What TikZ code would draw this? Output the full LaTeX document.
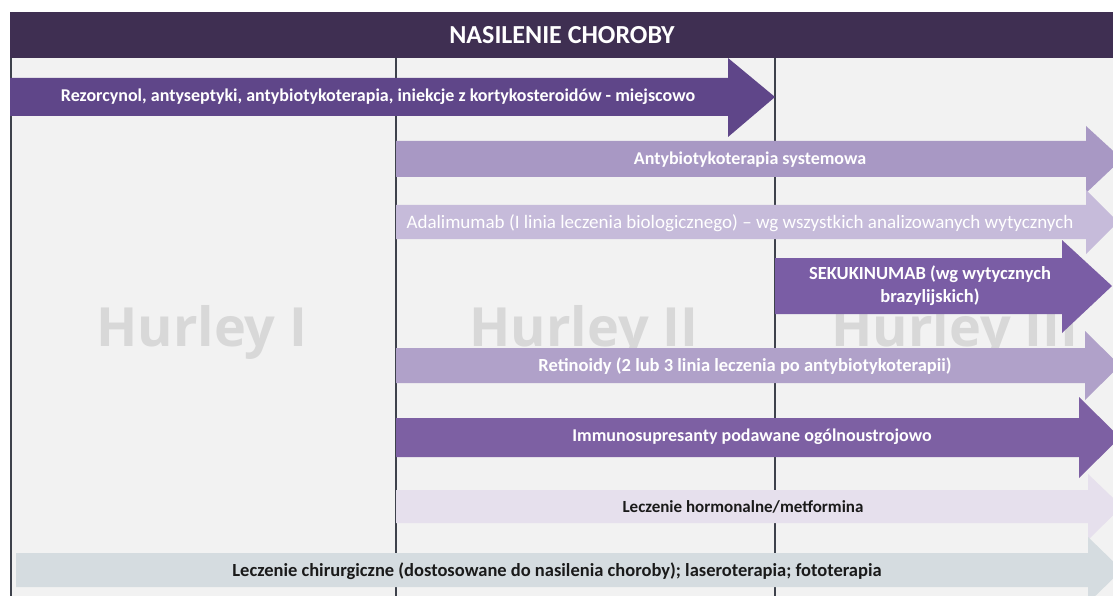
\documentclass[tikz,border=0pt]{standalone}
\usepackage{fontspec}
\setmainfont{Carlito}
\newfontfamily\stagefont{Open Sans}
\definecolor{paper}{RGB}{242,242,242}
\definecolor{header}{RGB}{63,47,82}
\definecolor{rule}{RGB}{62,66,76}
\definecolor{stage}{RGB}{216,216,216}
\definecolor{topical}{RGB}{95,70,137}
\definecolor{systemic}{RGB}{168,152,196}
\definecolor{biologic}{RGB}{198,187,218}
\definecolor{seku}{RGB}{122,93,165}
\definecolor{retino}{RGB}{176,161,201}
\definecolor{immuno}{RGB}{125,96,163}
\definecolor{hormone}{RGB}{230,224,237}
\definecolor{surgery}{RGB}{213,220,224}
\definecolor{ink}{RGB}{26,26,26}
% body from x0 to xb, head from xb to the tip
\newcommand{\therapyarrow}[8]{%
  \fill[#1] (#2,#5) -- (#3,#5) -- (#3,#7) -- (#4,{(#5+#6)/2})
            -- (#3,#8) -- (#3,#6) -- (#2,#6) -- cycle;}

\begin{document}
\begin{tikzpicture}[x=1pt, y=-1pt, line join=miter,
  lbl/.style={inner sep=0pt, font=\bfseries\fontsize{18}{21}\selectfont, text=white},
  stagelbl/.style={inner sep=0pt, anchor=base, text=stage,
                   font=\stagefont\bfseries\fontsize{54}{60}\selectfont}]

  %========= frame =========
  \def\W{1113}  \def\H{596}
  \def\xA{11}   \def\xB{396}  \def\xC{775}
  \useasboundingbox (0,0) rectangle (\W,\H);
  \clip (0,0) rectangle (\W,\H);
  \fill[white] (0,0) rectangle (\W,\H);
  \fill[paper] (10,58) rectangle (\W,\H);
  \fill[header] (10,12) rectangle (\W,58);
  \node[lbl, font=\bfseries\fontsize{26}{30}\selectfont] (title) at (562,35) {NASILENIE CHOROBY};

  %========= column rules =========
  \foreach \xc in {\xA,\xB,\xC}
    \draw[rule, line width=2pt] (\xc,58) -- (\xc,\H);

  %========= stages (behind the arrows) =========
  \node[stagelbl] (hurleyI)   at (202,346) {Hurley I};
  \node[stagelbl] (hurleyII)  at (584,346) {Hurley II};
  \node[stagelbl] (hurleyIII) at (955,346) {Hurley III};

  %========= treatment arrows =========
  \therapyarrow{topical}{10}{728}{775}{78}{116}{58}{137}
  \therapyarrow{systemic}{\xB}{1086}{1122}{141}{177}{126}{193}
  \therapyarrow{biologic}{\xB}{1086}{1118}{205}{239}{190}{254}
  \therapyarrow{seku}{\xC}{1062}{1112}{258}{314}{240}{333}
  \therapyarrow{retino}{\xB}{1085}{1120}{348}{383}{331}{400}
  \therapyarrow{immuno}{\xB}{1079}{1120}{418}{457}{397}{478}
  \therapyarrow{hormone}{\xB}{1088}{1122}{490}{523}{474}{540}
  \therapyarrow{surgery}{16}{1088}{1122}{553}{587}{537}{603}

  %========= labels =========
  \node[lbl] (txtrez) at (378,97) {Rezorcynol, antyseptyki, antybiotykoterapia, iniekcje z kortykosteroidów - miejscowo};
  \node[lbl] (txtabx) at (750,160) {Antybiotykoterapia systemowa};
  \node[lbl, font=\fontsize{19}{22}\selectfont] (txtada) at (740,223) {Adalimumab (I linia leczenia biologicznego) – wg wszystkich analizowanych wytycznych};
  \node[lbl, align=center, font=\bfseries\fontsize{18.5}{23}\selectfont] (txtsek) at (930,286) {SEKUKINUMAB (wg wytycznych\\brazylijskich)};
  \node[lbl, font=\bfseries\fontsize{18.5}{21}\selectfont] (txtret) at (745,366) {Retinoidy (2 lub 3 linia leczenia po antybiotykoterapii)};
  \node[lbl] (txtimm) at (752,437) {Immunosupresanty podawane ogólnoustrojowo};
  \node[lbl, text=ink, font=\bfseries\fontsize{17}{20}\selectfont] (txthor) at (743,507) {Leczenie hormonalne/metformina};
  \node[lbl, text=ink, font=\bfseries\fontsize{18.5}{21}\selectfont] (txtsur) at (557,571) {Leczenie chirurgiczne (dostosowane do nasilenia choroby); laseroterapia; fototerapia};
\end{tikzpicture}
\end{document}
